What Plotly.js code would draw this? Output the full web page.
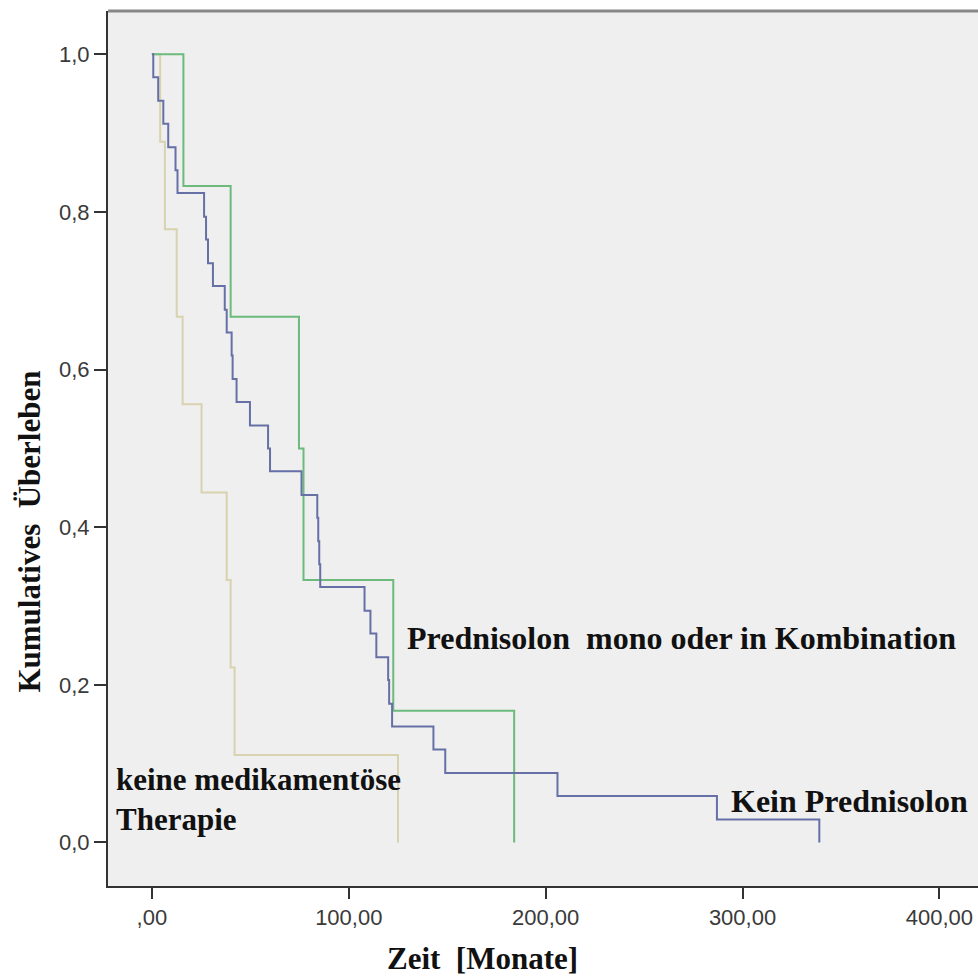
<!DOCTYPE html>
<html>
<head>
<meta charset="utf-8">
<script src="https://cdn.plot.ly/plotly-3.0.1.min.js"></script>
<style>html,body{margin:0;padding:0;background:#fff;}#chart{width:978px;height:976px;}</style>
</head>
<body>
<div id="chart"></div>
<script>
// Kein Prednisolon (blue)
const blueTimes = [0.7, 3.2, 5.8, 8.3, 12, 13, 26.5, 27.5, 28.5, 31, 37, 38, 40.5, 41, 43, 49.8, 59, 60, 76, 84, 84.5, 85, 85.5, 108, 111, 114, 120, 120.5, 122, 143, 149, 206, 287, 339];
const blueSurv  = [0.971, 0.941, 0.912, 0.882, 0.853, 0.824, 0.794, 0.765, 0.735, 0.706, 0.676, 0.647, 0.618, 0.588, 0.559, 0.529, 0.500, 0.471, 0.441, 0.412, 0.382, 0.353, 0.324, 0.294, 0.265, 0.235, 0.206, 0.176, 0.147, 0.118, 0.088, 0.059, 0.029, 0.000];
// Prednisolon mono oder in Kombination (green)
const greenTimes = [16, 40, 74.7, 77, 122.6, 184];
const greenSurv  = [0.833, 0.667, 0.500, 0.333, 0.167, 0.000];
// keine medikamentöse Therapie (beige)
const beigeTimes = [4.2, 6.6, 12.6, 15.6, 25.2, 38, 40, 42, 125];
const beigeSurv  = [0.889, 0.778, 0.667, 0.556, 0.444, 0.333, 0.222, 0.111, 0.000];

const xTickVals = [0, 100, 200, 300, 400];
const xTickText = [',00', '100,00', '200,00', '300,00', '400,00'];
const yTickVals = [0, 0.2, 0.4, 0.6, 0.8, 1.0];
const yTickText = ['0,0', '0,2', '0,4', '0,6', '0,8', '1,0'];

function km(times, surv) {
  return { x: [0].concat(times), y: [1].concat(surv) };
}

const b = km(blueTimes, blueSurv), g = km(greenTimes, greenSurv), y = km(beigeTimes, beigeSurv);
const traces = [
  {x: y.x, y: y.y, mode: 'lines', line: {shape: 'hv', color: '#d8d2ae', width: 2}, hoverinfo: 'skip'},
  {x: g.x, y: g.y, mode: 'lines', line: {shape: 'hv', color: '#6cba7c', width: 2}, hoverinfo: 'skip'},
  {x: b.x, y: b.y, mode: 'lines', line: {shape: 'hv', color: '#6670a6', width: 2}, hoverinfo: 'skip'}
];

const serif = 'Liberation Serif, Times New Roman, serif';
const layout = {
  width: 978, height: 976,
  margin: {l: 108, r: 0, t: 11, b: 90},
  paper_bgcolor: '#ffffff',
  plot_bgcolor: '#efefef',
  showlegend: false,
  font: {family: 'Liberation Sans, Arial, sans-serif', size: 22, color: '#3a3a3a'},
  xaxis: {
    range: [-22.3, 419.6], showgrid: false, zeroline: false,
    tickvals: xTickVals, ticktext: xTickText,
    ticks: 'outside', ticklen: 11, tickwidth: 2, tickcolor: '#333',
    showline: true, linecolor: '#333', linewidth: 2,
    fixedrange: true
  },
  yaxis: {
    range: [-0.0553, 1.055], showgrid: false, zeroline: false,
    tickvals: yTickVals, ticktext: yTickText,
    ticks: 'outside', ticklen: 12, tickwidth: 2, tickcolor: '#333',
    showline: true, linecolor: '#333', linewidth: 2,
    fixedrange: true
  },
  shapes: [
    {type: 'line', xref: 'paper', yref: 'paper', x0: 0, x1: 1, y0: 1, y1: 1, line: {color: '#888', width: 3}}
  ],
  annotations: [
    {text: 'Kumulatives  Überleben', xref: 'paper', yref: 'paper', x: -0.0897, y: 0.405, xanchor: 'center', yanchor: 'middle', textangle: -90, showarrow: false,
     font: {family: serif, size: 31, color: '#111', weight: 'bold'}},
    {text: 'Zeit  [Monate]', xref: 'paper', yref: 'paper', x: 0.43, y: -0.083, xanchor: 'center', yanchor: 'middle', showarrow: false,
     font: {family: serif, size: 31, color: '#111', weight: 'bold'}},
    {text: 'Prednisolon  mono oder in Kombination', xref: 'x', yref: 'y', x: 128.6, y: 0.26, xanchor: 'left', yanchor: 'middle', showarrow: false,
     font: {family: serif, size: 32, color: '#111', weight: 'bold'}},
    {text: 'Kein Prednisolon', xref: 'x', yref: 'y', x: 293, y: 0.052, xanchor: 'left', yanchor: 'middle', showarrow: false,
     font: {family: serif, size: 32, color: '#111', weight: 'bold'}},
    {text: 'keine medikamentöse<br>Therapie', xref: 'x', yref: 'y', x: -19.5, y: 0.054, xanchor: 'left', yanchor: 'middle', align: 'left', showarrow: false,
     font: {family: serif, size: 31, color: '#111', weight: 'bold'}}
  ]
};

Plotly.newPlot('chart', traces, layout, {displayModeBar: false, staticPlot: true});
</script>
</body>
</html>
